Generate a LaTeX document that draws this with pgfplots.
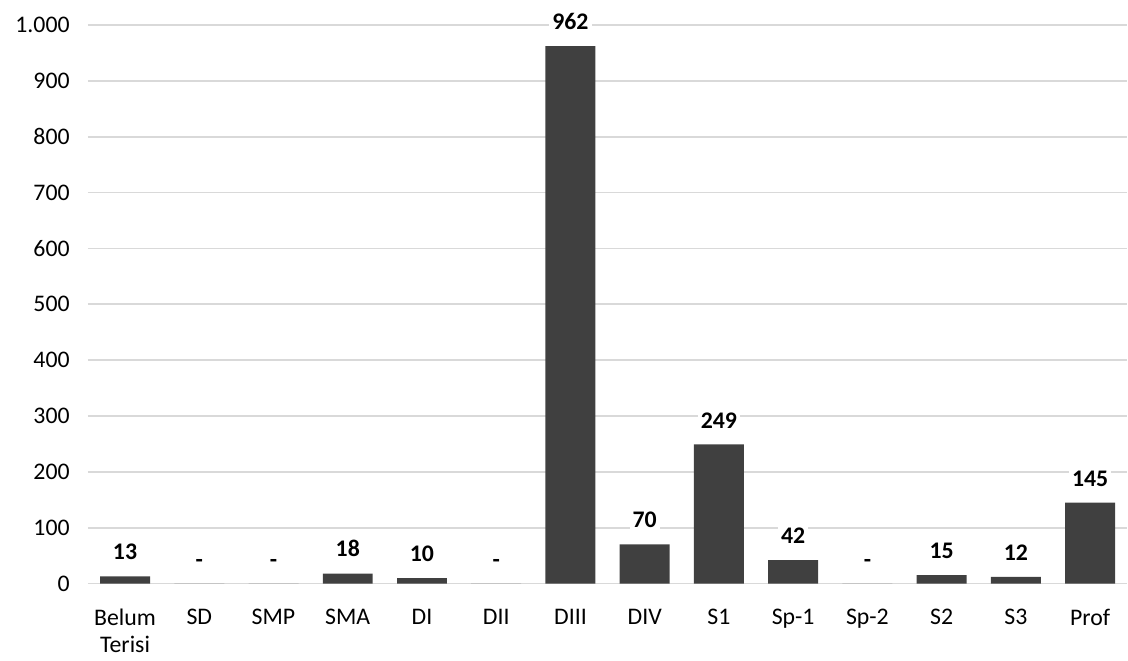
\documentclass[border=0pt]{standalone}
\usepackage{pgfplots}
\pgfplotsset{compat=1.18}
\usepackage{pgfplotstable}
\usepackage{fontspec}
\setmainfont{Carlito}
\definecolor{barc}{HTML}{404040}
\definecolor{gridc}{HTML}{D9D9D9}
\pgfplotstableread{
x y lab
0 13 13
1 0 -
2 0 -
3 18 18
4 10 10
5 0 -
6 962 962
7 70 70
8 249 249
9 42 42
10 0 -
11 15 15
12 12 12
13 145 145
}\edu
\begin{document}
\fontsize{11.9}{12.2}\selectfont
\begin{tikzpicture}
\begin{axis}[
  scale only axis,
  width=520pt, height=279.5pt,
  xmin=-0.5, xmax=13.5,
  ymin=0, ymax=1000,
  ytick={0,100,...,1000},
  xtick=data,
  xticklabels={Belum\\Terisi,SD,SMP,SMA,DI,DII,DIII,DIV,S1,Sp-1,Sp-2,S2,S3,Prof},
  xticklabel style={align=center, font=\fontsize{11.9}{13.4}\selectfont, yshift=-8.5pt},
  yticklabel style={font=\fontsize{11.9}{12.2}\selectfont, xshift=-5pt},
  /pgf/number format/assume math mode=true,
  /pgf/number format/1000 sep={.},
  axis line style={draw=none},
  major tick length=0pt,
  ymajorgrids=true,
  grid style={gridc, line width=0.8pt},
  xtick style={draw=none},
  ytick style={draw=none},
  clip=false,
]
\addplot[ybar, bar width=25pt, fill=barc, draw=none,
  point meta=explicit symbolic,
  nodes near coords={\pgfplotspointmeta},
  nodes near coords style={font=\bfseries\fontsize{11.9}{12.2}\selectfont, fill=white, inner sep=1.5pt, yshift=6.5pt},
] table[x=x, y=y, meta=lab] {\edu};
\end{axis}
\path ([xshift=-44pt,yshift=12.5pt]current axis.north west) rectangle ([yshift=-37.5pt]current axis.south east);
\end{tikzpicture}
\end{document}
